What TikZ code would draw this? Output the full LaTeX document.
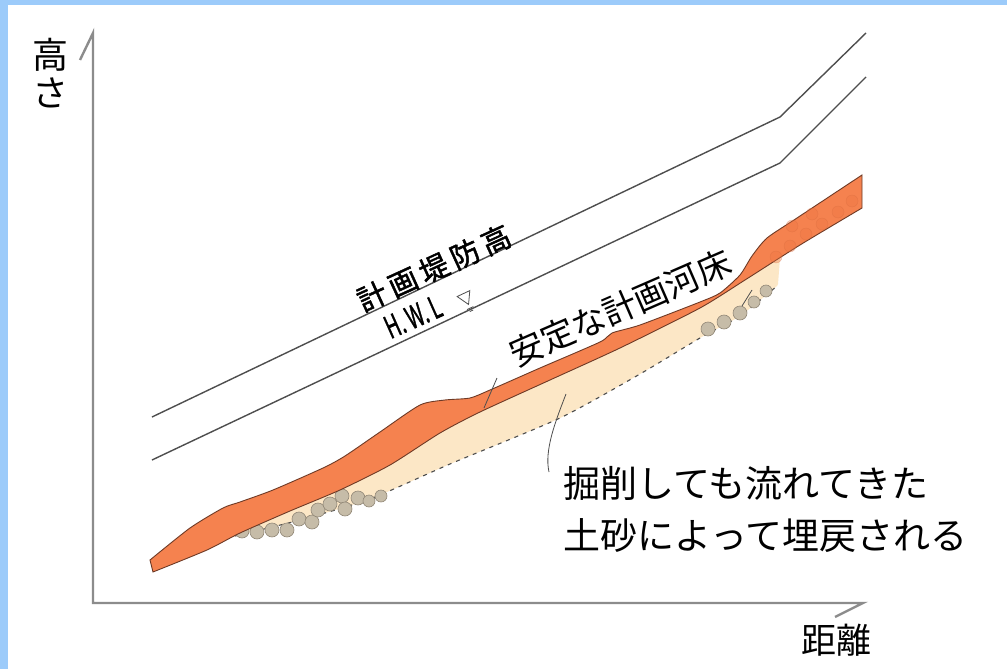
\documentclass[tikz,border=0pt]{standalone}
\usepackage{fontspec}
\newfontfamily\jp{Noto Sans CJK JP}
\newfontfamily\jpb[FakeBold=1.6]{Noto Sans CJK JP}
\definecolor{frameblue}{HTML}{9CCBFA}
\definecolor{axisgray}{HTML}{8C8C8C}
\definecolor{linegray}{HTML}{4E4E4E}
\definecolor{bedorange}{HTML}{F5824F}
\definecolor{bededge}{HTML}{6E3A26}
\definecolor{sandcream}{HTML}{FCE7C6}
\definecolor{pebble}{HTML}{C6BCA8}
\definecolor{pebbleedge}{HTML}{928877}
\definecolor{bedpebble}{HTML}{EE7442}
\begin{document}
\begin{tikzpicture}[x=1pt,y=-1pt,
  axisline/.style={draw=axisgray,line width=2.4pt},
  dykeline/.style={draw=linegray,line width=1.4pt},
  leader/.style={draw=linegray,line width=0.8pt},
  pebblestone/.style={fill=pebble,draw=pebbleedge,line width=0.6pt},
  label/.style={inner sep=0pt,text=black,font=\jp}]
% frame and page
\useasboundingbox (0,0) rectangle (1007,669);
\fill[frameblue] (0,0) rectangle (1007,669);
\fill[white] (8,5) rectangle (1007,669);

% sand deposited below the planned bed
\fill[sandcream] plot[smooth,tension=0.4] coordinates {(232,537) (290,511) (340,490) (390,465) (440,433) (480,412) (550,380) (620,348) (700,308) (745,280) (780,258)}
  -- (778,284) -- plot[smooth,tension=0.4] coordinates {(777,286) (740,316) (700,338) (640,374) (560,418) (450,464) (370,499) (300,520) (235,536)} -- cycle;
\draw[linegray,line width=1.1pt,dash pattern=on 4pt off 5pt] plot[smooth,tension=0.4] coordinates {(235,536) (300,520) (370,499) (450,464) (560,418) (640,374) (700,338) (740,316) (777,286)};

% pebbles in the deposit
\foreach \px/\py/\r in {242/531/7,257/532/7,272/530/7,287/530/7,299/519/7,312/522/7,318/510/7,330/504/7,342/496/7,345/509/7,358/498/7,369/501/6,381/496/6,
  708/329/7,724/322/7,740/313/7,754/302/6,766/291/6}
  \draw[pebblestone] (\px,\py) circle (\r);

% planned stable river bed
\filldraw[fill=bedorange,draw=bededge,line width=0.9pt]
  plot[smooth,tension=0.4] coordinates {(150,560) (190,528) (223,508) (240,502) (273,490) (323,468) (345,456) (380,432) (420,405) (445,400) (470,398) (490,390) (540,368) (600,342) (612,333) (640,325) (700,302) (720,293) (740,275) (752,256) (767,238) (797,218) (862,175)}
  -- (862,208)
  -- plot[smooth,tension=0.4] coordinates {(862,208) (800,245) (745,280) (700,308) (620,348) (550,380) (480,412) (440,433) (390,465) (340,490) (290,511) (240,533) (207,550) (153,572)}
  -- cycle;
\foreach \px/\py in {776/257,790/246,806/234,822/224,838/212,852/201,792/226,812/214}
  \draw[fill=bedpebble,draw=bedpebble!85!black,line width=0.3pt,opacity=0.35] (\px,\py) circle (6);

% planned levee crown and high water level
\draw[dykeline] (152,417) -- (780,117) -- (866,33);
\draw[dykeline] (152,460) -- (780,163) -- (866,77);

% axes
\draw[axisline] (80,60) -- (93,33) -- (93,603) -- (863,603) -- (835,617);

% labels
\node[label,font=\jp\fontsize{36}{38}\selectfont,align=center] (ylabel) at (50,73) {高\\さ};
\node[label,font=\jp\fontsize{35}{38}\selectfont] (xlabel) at (836,640) {距離};
\node[label,font=\jpb\fontsize{29}{30}\selectfont,rotate=24.5] (crestlabel) at (434,268)
  {計\hspace{5pt}画\hspace{5pt}堤\hspace{5pt}防\hspace{5pt}高};
\node[label,rotate=24] (hwllabel) at (413,317)
  {\scalebox{0.62}[1]{\jpb\fontsize{31}{32}\selectfont H.\hspace{6pt}W.\hspace{6pt}L}};
\begin{scope}[shift={(466,299)},rotate=25]
  \draw[linegray,line width=0.8pt] (-7,-6) -- (7,-6) -- (0,6) -- cycle;
  \draw[linegray,line width=0.8pt] (-3.5,10) -- (3.5,10) (-1.8,13) -- (1.8,13);
\end{scope}
\node[label,font=\jp\fontsize{34}{36}\selectfont,rotate=23.5] (bedlabel) at (620,308) {安定な計画河床};
\node[label,font=\jp\fontsize{37}{52}\selectfont,align=left,anchor=north west] (fillnote) at (563,466)
  {掘削しても流れてきた\\土砂によって埋戻される};

% leaders
\coordinate (bedtip) at (484,408);
\coordinate (bedfoot) at (497,378);
\draw[leader] (bedfoot) -- (bedtip);
\coordinate (sandtip) at (566,394);
\coordinate (notefoot) at (549,472);
\draw[leader] (sandtip) .. controls (556,420) and (544,450) .. (notefoot);
\coordinate (stonetip) at (752,290);
\coordinate (stonefoot) at (742,306);
\draw[leader] (stonefoot) -- (stonetip);
\end{tikzpicture}
\end{document}
